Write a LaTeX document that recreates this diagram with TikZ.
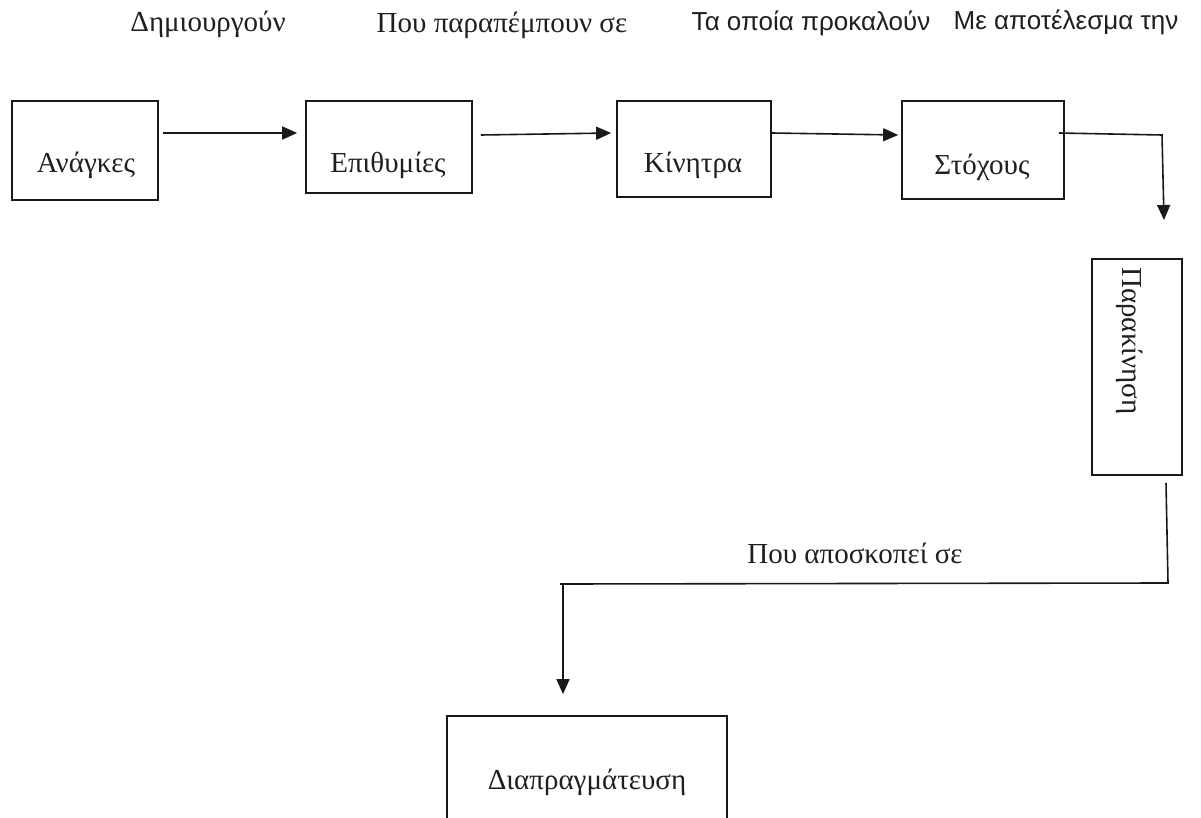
\documentclass[tikz,border=0pt]{standalone}
\usepackage{fontspec}
\setmainfont{Liberation Serif}
\newfontfamily\arialfont{Liberation Sans}
\usetikzlibrary{arrows.meta}

\tikzset{
  box/.style={draw=black!90, line width=1.7pt, rectangle, inner sep=0pt},
  boxtext/.style={font=\fontsize{29}{33}\selectfont, text=black!88, inner sep=0pt},
  caption/.style={font=\fontsize{29}{33}\selectfont, text=black!88, inner sep=0pt},
  sanscaption/.style={font=\arialfont\fontsize{26}{30}\selectfont, text=black!88, inner sep=0pt},
  link/.style={draw=black!90, line width=1.6pt},
  arr/.style={link, -{Triangle[length=15pt,width=13pt]}}
}

\begin{document}
\begin{tikzpicture}[x=1pt, y=-1pt]
  \useasboundingbox (0,0) rectangle (1201,818);
  \clip (0,0) rectangle (1201,818);
  \fill[white] (0,0) rectangle (1201,818);

  % captions above the chain
  \node[caption]     (c1) at (208,24)  {Δημιουργούν};
  \node[caption]     (c2) at (502,25)  {Που παραπέμπουν σε};
  \node[sanscaption] (c3) at (811,23)  {Τα οποία προκαλούν};
  \node[sanscaption] (c4) at (1066,22) {Με αποτέλεσμα την};
  \node[caption]     (c5) at (855,553) {Που αποσκοπεί σε};

  % boxes of the chain
  \node[box, minimum width=146pt, minimum height=99pt] (anagkes)    at (85,150.5) {};
  \node[box, minimum width=166pt, minimum height=92pt] (epithymies) at (389,147)  {};
  \node[box, minimum width=154pt, minimum height=96pt] (kinitra)    at (694,149)  {};
  \node[box, minimum width=162pt, minimum height=98pt] (stoxous)    at (983,150)  {};
  \node[box, minimum width=90pt,  minimum height=216pt] (parakin)   at (1137,367) {};
  \node[box, minimum width=280pt, minimum height=140pt] (diapr)     at (587,786)  {};

  % box labels
  \node[boxtext] (tanagkes)    at (86,165)  {Ανάγκες};
  \node[boxtext] (tepithymies) at (388,165) {Επιθυμίες};
  \node[boxtext] (tkinitra)    at (693,165) {Κίνητρα};
  \node[boxtext] (tstoxous)    at (982,167) {Στόχους};
  \node[boxtext, rotate=-90] (tparakin) at (1130,341) {Παρακίνηση};
  \node[boxtext] (tdiapr)      at (587,782) {Διαπραγμάτευση};

  % connectors
  \draw[arr] ([xshift=4pt]anagkes.east |- 0,133) -- ([xshift=-8pt]epithymies.west |- 0,133);
  \draw[arr] ([xshift=8pt]epithymies.east |- 0,135) -- ([xshift=-5pt]kinitra.west |- 0,133);
  \draw[arr] (kinitra.east |- 0,133) -- ([xshift=-3pt]stoxous.west |- 0,135);

  \coordinate (k1) at (1162,135);
  \draw[arr] ([xshift=-6pt]stoxous.east |- 0,133) -- (k1) -- (1164,220);

  \coordinate (k2) at (1168,583);
  \coordinate (k3) at (560,584);
  \draw[arr] (1166,483) -- (k2) -- (k3) -- (563,584) -- ([yshift=21pt]diapr.north -| 563,0);
\end{tikzpicture}
\end{document}
